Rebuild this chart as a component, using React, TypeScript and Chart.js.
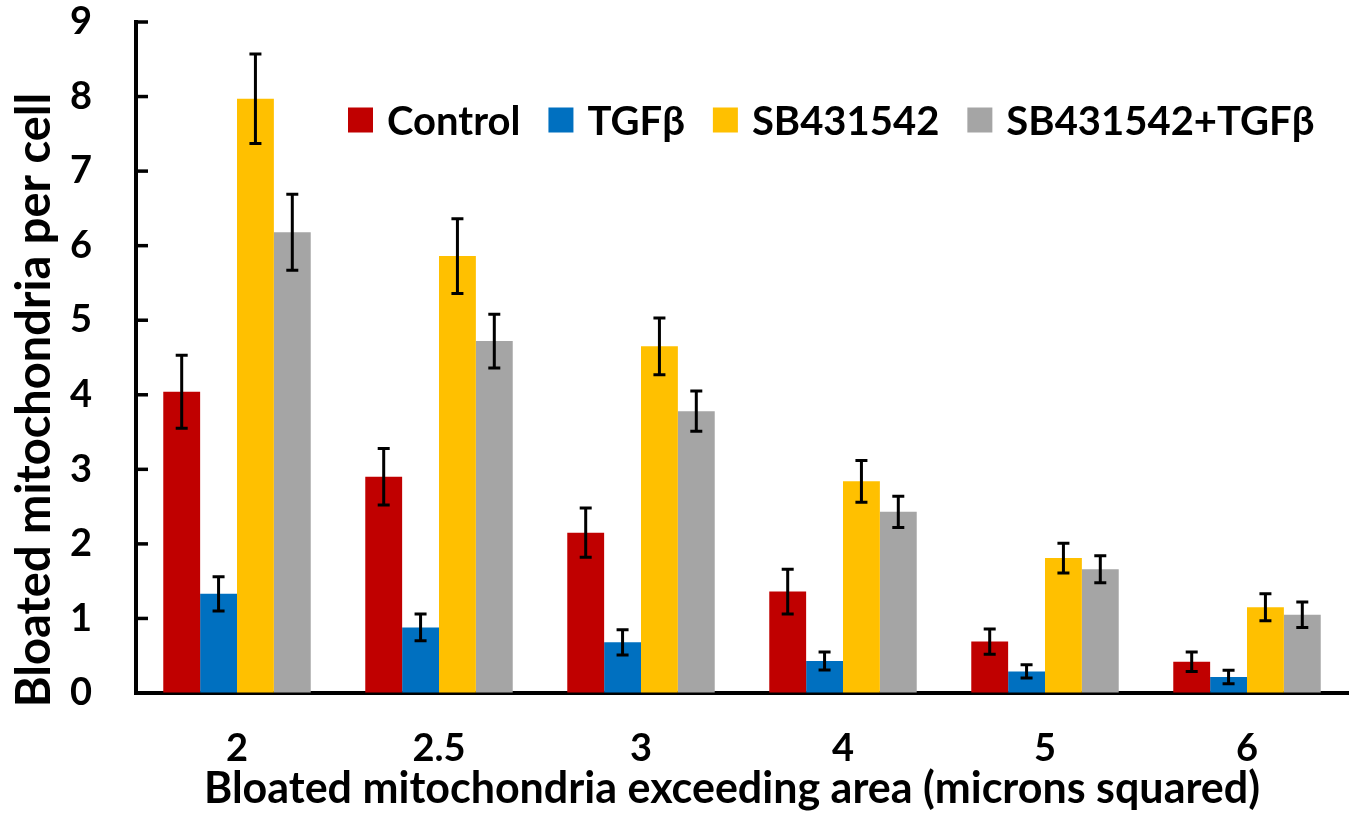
import React, { useEffect, useRef } from "react";
import { Chart, registerables } from "chart.js";

Chart.register(...registerables);

const categories = ["2", "2.5", "3", "4", "5", "6"];
const seriesLabels = ["Control", "TGFβ", "SB431542", "SB431542+TGFβ"];
const seriesColors = ["#C00000", "#0070C0", "#FFC000", "#A5A5A5"];
const controlValues = [4.04, 2.9, 2.15, 1.36, 0.69, 0.42];
const tgfValues = [1.33, 0.88, 0.68, 0.43, 0.29, 0.215];
const sbValues = [7.97, 5.86, 4.65, 2.84, 1.81, 1.15];
const sbTgfValues = [6.18, 4.72, 3.78, 2.43, 1.66, 1.05];
const controlErrors = [0.49, 0.38, 0.33, 0.3, 0.17, 0.13];
const tgfErrors = [0.23, 0.18, 0.17, 0.12, 0.09, 0.09];
const sbErrors = [0.6, 0.5, 0.38, 0.28, 0.2, 0.18];
const sbTgfErrors = [0.51, 0.36, 0.27, 0.21, 0.18, 0.17];
const yTicks = [0, 1, 2, 3, 4, 5, 6, 7, 8, 9];
const xTitle = "Bloated mitochondria exceeding area (microns squared)";
const yTitle = "Bloated mitochondria per cell";

const allValues = [controlValues, tgfValues, sbValues, sbTgfValues];
const allErrors = [controlErrors, tgfErrors, sbErrors, sbTgfErrors];

const FONT = "Lato";

const errorBarPlugin = {
  id: "errorBars",
  afterDatasetsDraw(chart: any) {
    const ctx = chart.ctx;
    const y = chart.scales.y;
    ctx.save();
    ctx.strokeStyle = "#000";
    ctx.lineWidth = 3;
    chart.data.datasets.forEach((ds: any, i: number) => {
      const meta = chart.getDatasetMeta(i);
      const errs = allErrors[i];
      meta.data.forEach((bar: any, j: number) => {
        const v = ds.data[j];
        const e = errs[j];
        const x = bar.x;
        const yt = y.getPixelForValue(v + e);
        const yb = y.getPixelForValue(v - e);
        const cap = 6;
        ctx.beginPath();
        ctx.moveTo(x, yt);
        ctx.lineTo(x, yb);
        ctx.moveTo(x - cap, yt);
        ctx.lineTo(x + cap, yt);
        ctx.moveTo(x - cap, yb);
        ctx.lineTo(x + cap, yb);
        ctx.stroke();
      });
    });
    ctx.restore();
  },
};

const innerTicksPlugin = {
  id: "innerTicks",
  afterDraw(chart: any) {
    const ctx = chart.ctx;
    const y = chart.scales.y;
    const left = chart.chartArea.left;
    ctx.save();
    ctx.strokeStyle = "#000";
    ctx.lineWidth = 3.5;
    y.ticks.forEach((t: any) => {
      const py = y.getPixelForValue(t.value);
      ctx.beginPath();
      ctx.moveTo(left, py);
      ctx.lineTo(left + 12, py);
      ctx.stroke();
    });
    ctx.restore();
  },
};

const titlesPlugin = {
  id: "axisTitles",
  afterDraw(chart: any) {
    const ctx = chart.ctx;
    ctx.save();
    ctx.fillStyle = "#000";
    ctx.textAlign = "center";
    ctx.textBaseline = "alphabetic";
    ctx.font = `bold 43px ${FONT}`;
    ctx.fillText(xTitle, 732, 803);
    ctx.translate(50, 400);
    ctx.rotate(-Math.PI / 2);
    ctx.font = `bold 47px ${FONT}`;
    ctx.fillText(yTitle, 0, 0);
    ctx.restore();
  },
};

const legendPlugin = {
  id: "customLegend",
  afterDraw(chart: any) {
    const ctx = chart.ctx;
    ctx.save();
    ctx.font = `bold 40px ${FONT}`;
    ctx.textBaseline = "middle";
    ctx.textAlign = "left";
    let x = 348;
    const cy = 120;
    const box = 25;
    chart.data.datasets.forEach((ds: any) => {
      ctx.fillStyle = ds.backgroundColor;
      ctx.fillRect(x, cy - box / 2, box, box);
      x += box + 14;
      ctx.fillStyle = "#000";
      ctx.fillText(ds.label, x, cy + 2);
      x += ctx.measureText(ds.label).width + 28;
    });
    ctx.restore();
  },
};

export default function App() {
  const ref = useRef<HTMLCanvasElement>(null);
  useEffect(() => {
    if (!ref.current) return;
    const chart = new Chart(ref.current, {
      type: "bar",
      data: {
        labels: categories,
        datasets: seriesLabels.map((label, i) => ({
          label,
          data: allValues[i],
          backgroundColor: seriesColors[i],
          borderWidth: 0,
          barPercentage: 1,
          categoryPercentage: 0.73,
        })),
      },
      options: {
        animation: false,
        responsive: false,
        maintainAspectRatio: false,
        layout: { padding: { top: 22, right: 9, left: 0, bottom: 0 } },
        plugins: {
          legend: { display: false },
          tooltip: { enabled: false },
        },
        scales: {
          x: {
            grid: { display: true, drawOnChartArea: false, drawTicks: false },
            border: { display: true, color: "#000", width: 4 },
            ticks: {
              color: "#000",
              font: { family: FONT, weight: "bold", size: 38 },
              padding: 33,
            },
            title: { display: false },
            afterFit: (s: any) => {
              s.height = 124;
            },
          },
          y: {
            min: 0,
            max: 9,
            afterBuildTicks: (s: any) => {
              s.ticks = yTicks.map((v) => ({ value: v }));
            },
            grid: {
              display: true,
              drawOnChartArea: false,
              drawTicks: true,
              tickLength: 44,
              tickColor: "rgba(0,0,0,0)",
            },
            border: { display: true, color: "#000", width: 4 },
            ticks: {
              color: "#000",
              font: { family: FONT, weight: "bold", size: 38, lineHeight: 0.1 },
              padding: 0,
            },
            title: { display: false },
            afterFit: (s: any) => {
              s.width = 136;
            },
          },
        },
      },
      plugins: [errorBarPlugin, innerTicksPlugin, titlesPlugin, legendPlugin],
    } as any);
    return () => chart.destroy();
  }, []);
  return (
    <div style={{ position: "fixed", left: 0, top: 0, width: 1357, height: 817, background: "#fff" }}>
      <canvas ref={ref} width={1357} height={817} style={{ width: 1357, height: 817 }} />
    </div>
  );
}
